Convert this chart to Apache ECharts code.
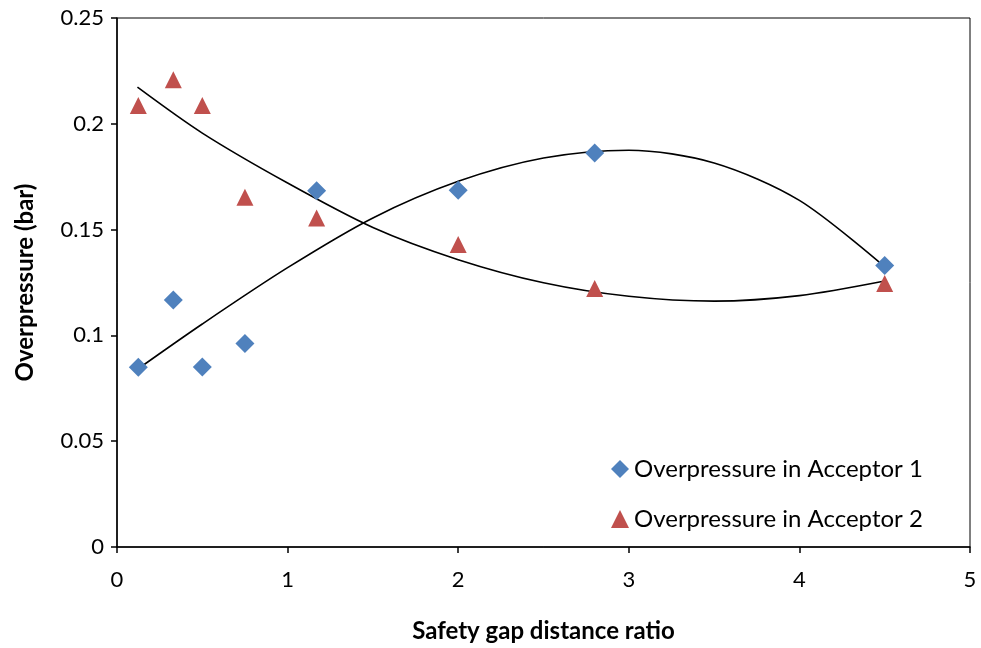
<!DOCTYPE html>
<html>
<head>
<meta charset="utf-8">
<script src="https://cdn.jsdelivr.net/npm/echarts@6/dist/echarts.min.js"></script>
<style>
  html, body { margin: 0; padding: 0; background: #fff; }
  #chart { width: 981px; height: 648px; }
</style>
</head>
<body>
<div id="chart"></div>
<script>
// gap ratios of the measured points
const gapRatio = [0.125, 0.33, 0.5, 0.75, 1.17, 2.0, 2.8, 4.5];
const acceptor1 = [0.085, 0.1167, 0.0851, 0.0962, 0.1684, 0.1686, 0.1862, 0.133];
const acceptor2 = [0.2087, 0.2208, 0.2087, 0.1653, 0.1555, 0.1429, 0.1222, 0.1245];

// trendlines
const trend1X = [0.12, 0.5, 1.0, 1.5, 2.0, 2.5, 3.0, 3.5, 4.0, 4.5];
const trend1Y = [0.084, 0.1054, 0.132, 0.1555, 0.1728, 0.1838, 0.1875, 0.1815, 0.1638, 0.1324];
const trend2X = [0.12, 0.5, 1.0, 1.5, 2.0, 2.5, 3.0, 3.5, 4.0, 4.5];
const trend2Y = [0.2173, 0.1956, 0.172, 0.151, 0.1358, 0.1249, 0.1185, 0.1162, 0.1188, 0.1257];

const seriesNames = ['Overpressure in Acceptor 1', 'Overpressure in Acceptor 2'];
const xTicks = [0, 5, 1];      // min, max, interval
const yTicks = [0, 0.25, 0.05];

const font = 'Lato, "Liberation Sans", sans-serif';
const zip = (xs, ys) => xs.map((x, i) => [x, ys[i]]);

const chart = echarts.init(document.getElementById('chart'));

chart.setOption({
  animation: false,
  textStyle: { fontFamily: font },
  grid: {
    left: 117, right: 11, top: 18, bottom: 99,
    show: true, borderColor: '#000', borderWidth: 1
  },
  legend: {
    orient: 'vertical',
    left: 606, top: 452,
    itemGap: 26,
    itemWidth: 18, itemHeight: 18,
    textStyle: { fontSize: 24, color: '#000', fontFamily: font },
    data: [
      { name: seriesNames[0], icon: 'diamond' },
      { name: seriesNames[1], icon: 'triangle' }
    ]
  },
  xAxis: {
    type: 'value',
    min: xTicks[0], max: xTicks[1], interval: xTicks[2],
    name: 'Safety gap distance ratio',
    nameLocation: 'middle', nameGap: 72,
    nameTextStyle: { fontSize: 24, fontWeight: 'bold', color: '#000', fontFamily: font },
    axisLine: { lineStyle: { color: '#000', width: 1.5 } },
    axisTick: { show: true, inside: false, length: 6, lineStyle: { color: '#000', width: 1.5 } },
    axisLabel: { fontSize: 22, color: '#000', margin: 22 },
    splitLine: { show: false }
  },
  yAxis: {
    type: 'value',
    min: yTicks[0], max: yTicks[1], interval: yTicks[2],
    name: 'Overpressure (bar)',
    nameLocation: 'middle', nameGap: 80, nameRotate: 90,
    nameTextStyle: { fontSize: 24, fontWeight: 'bold', color: '#000', fontFamily: font },
    axisLine: { show: true, lineStyle: { color: '#000', width: 1.5 } },
    axisTick: { show: true, inside: false, length: 6, lineStyle: { color: '#000', width: 1.5 } },
    axisLabel: { fontSize: 22, color: '#000', margin: 13 },
    splitLine: { show: false }
  },
  series: [
    {
      name: 'trend1', type: 'line', smooth: 0.3, symbol: 'none',
      lineStyle: { color: '#000', width: 1.6 },
      data: zip(trend1X, trend1Y), z: 1, silent: true
    },
    {
      name: 'trend2', type: 'line', smooth: 0.3, symbol: 'none',
      lineStyle: { color: '#000', width: 1.6 },
      data: zip(trend2X, trend2Y), z: 1, silent: true
    },
    {
      name: seriesNames[0], type: 'scatter', symbol: 'diamond', symbolSize: 19,
      itemStyle: { color: '#4F81BD', opacity: 1 },
      data: zip(gapRatio, acceptor1), z: 3
    },
    {
      name: seriesNames[1], type: 'scatter', symbol: 'triangle', symbolSize: 17,
      itemStyle: { color: '#C0504D', opacity: 1 },
      data: zip(gapRatio, acceptor2), z: 3
    }
  ]
});
</script>
</body>
</html>
